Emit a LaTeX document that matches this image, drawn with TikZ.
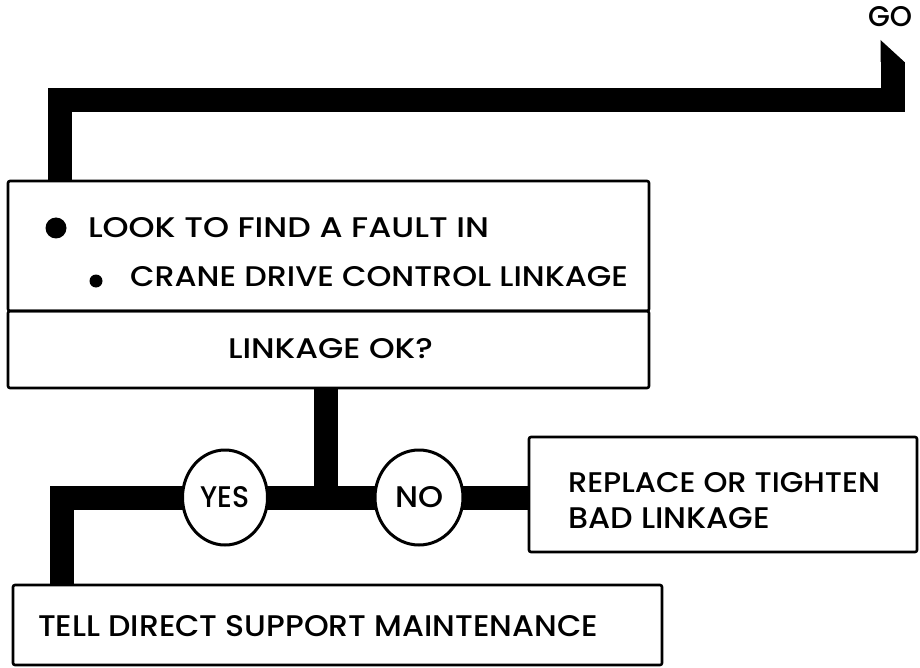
\documentclass[tikz,border=0pt]{standalone}
\usepackage{fontspec}
\setmainfont{Poppins Medium}
\usetikzlibrary{shapes.geometric,calc,backgrounds}
\newcommand\captxt[3]{\resizebox{#1pt}{#2pt}{#3}}
\begin{document}
\begin{tikzpicture}[x=1pt,y=-1pt,
  box/.style={draw, line width=2.6pt, rectangle, rounded corners=2pt, inner sep=0pt, outer sep=0pt, anchor=north west},
  choice/.style={draw, line width=3pt, ellipse, fill=white, inner sep=0pt, outer sep=0pt},
  flow/.style={line width=24pt, line join=miter, line cap=butt},
  lbl/.style={inner sep=0pt, outer sep=0pt, anchor=base west},
  dot/.style={circle, fill=black, inner sep=0pt, outer sep=0pt}]
\useasboundingbox (0,0) rectangle (920,668);

% boxes
\node[box, minimum width=641pt, minimum height=130pt] (look) at (8,181) {};
\node[box, minimum width=641pt, minimum height=77pt] (ask) at (8,311) {};
\node[box, minimum width=388pt, minimum height=115pt] (replace) at (529,437) {};
\node[box, minimum width=649pt, minimum height=80pt] (tell) at (13,585) {};

% decision circles
\node[choice, minimum width=85pt, minimum height=95pt] (yes) at (225,497.5) {\captxt{49}{21}{YES}};
\node[choice, minimum width=88pt, minimum height=95pt] (no) at (419,497.5) {\captxt{48}{21}{NO}};

% texts
\node[lbl] (go) at (868,27) {\captxt{44}{20}{GO}};
\node[dot, minimum size=21pt] (b1) at (56,228) {};
\node[lbl] (t1) at (88,238) {\captxt{401}{20}{LOOK TO FIND A FAULT IN}};
\node[dot, minimum size=13pt] (b2) at (96,281) {};
\node[lbl] (t2) at (130,286) {\captxt{498}{20}{CRANE DRIVE CONTROL LINKAGE}};
\node[lbl] (t3) at (228,358) {\captxt{205}{20}{LINKAGE OK?}};
\node[lbl] (t4) at (568,492) {\captxt{312}{20}{REPLACE OR TIGHTEN}};
\node[lbl] (t5) at (568,528) {\captxt{202}{21}{BAD LINKAGE}};
\node[lbl] (t6) at (38,636) {\captxt{560}{21}{TELL DIRECT SUPPORT MAINTENANCE}};

\coordinate (goend) at (892.5,62);
\coordinate (jn) at (325.5,497.5);

\begin{scope}[on background layer]
  % entry line from GO
  \draw[flow] ($(look.north west)+(52,0)$) -- ++(0,-81) -| (goend);
  \fill (goend) ++(-12,0) -- ++(0,-22) -- ++(24,22) -- cycle;
  % from question down to junction
  \draw[flow] (ask.south -| jn) -- (jn);
  \draw[flow] (yes.center) -- (no.center);
  \draw[flow] (no.center) -- (no.center -| replace.west);
  \draw[flow] (yes.center) -| ($(tell.north west)+(49,0)$);
\end{scope}
\end{tikzpicture}
\end{document}
